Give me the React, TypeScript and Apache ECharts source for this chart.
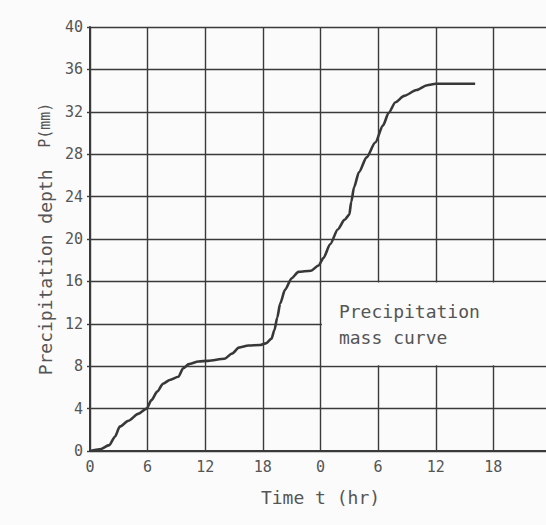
import React, { useEffect, useRef } from "react";
import * as echarts from "echarts";

// Time (hr, cumulative from start) and cumulative precipitation depth (mm)
const timeHr: number[] = [
  0, 1.0, 2.0, 2.6, 3.1, 4.0, 5.0, 5.9, 6.4, 7.0, 7.6, 8.3, 9.2, 9.7, 10.3, 11.3, 12.3,
  14.0, 14.8, 15.5, 16.5, 17.7, 18.3, 18.9, 19.2, 19.5, 19.8, 20.3, 21.0, 21.7, 23.0,
  23.8, 24.3, 25.0, 25.8, 26.5, 27.0, 27.2, 27.5, 28.0, 28.8, 29.7, 30.5, 31.1, 31.8,
  32.7, 34.0, 35.1, 36.0, 40.1,
];
const depthMm: number[] = [
  0, 0.15, 0.55, 1.35, 2.3, 2.85, 3.5, 4.0, 4.8, 5.6, 6.35, 6.7, 7.0, 7.8, 8.2, 8.45, 8.5,
  8.7, 9.2, 9.75, 9.95, 10.0, 10.15, 10.6, 11.4, 12.6, 13.9, 15.2, 16.3, 16.9, 17.0,
  17.5, 18.2, 19.5, 20.9, 21.8, 22.3, 23.5, 24.9, 26.3, 27.7, 29.1, 30.7, 31.9, 32.9,
  33.5, 34.05, 34.5, 34.65, 34.65,
];

const xMin = 0;
const xMax = 48;
const xInterval = 6;
const yMin = 0;
const yMax = 40;
const yInterval = 4;

const yAxisTitle = "Precipitation depth  {s|P(mm)}";
const xAxisTitle = "Time t (hr)";
const noteText = "Precipitation\nmass curve";
const noteBox: [number, number][] = [
  [24.15, 8.1],
  [48, 15.9],
];

const MONO = "'DejaVu Sans Mono', 'Liberation Mono', monospace";
const INK = "#3a3a3a";
const TEXT = "#555";
const BG = "#fbfbfb";

export default function App() {
  const ref = useRef<HTMLDivElement>(null);

  useEffect(() => {
    if (!ref.current) return;
    const chart = echarts.init(ref.current, undefined, { renderer: "svg" });
    const data = timeHr.map((t, i) => [t, depthMm[i]]);
    chart.setOption({
      animation: false,
      backgroundColor: BG,
      grid: {
        left: 90,
        top: 27,
        right: -5,
        bottom: 74,
        containLabel: false,
        outerBoundsMode: "none",
      },
      xAxis: {
        type: "value",
        min: xMin,
        max: xMax,
        interval: xInterval,
        name: xAxisTitle,
        nameLocation: "middle",
        nameGap: 37,
        nameTextStyle: { fontFamily: MONO, fontSize: 18, color: TEXT },
        axisLine: { show: true, onZero: false, lineStyle: { color: INK, width: 2 } },
        axisTick: { show: false },
        axisLabel: {
          fontFamily: MONO,
          fontSize: 15,
          color: TEXT,
          margin: 8,
          showMaxLabel: true,
          hideOverlap: false,
          formatter: (v: number) => (v % 6 === 0 ? String(v % 24) : ""),
        },
        splitLine: { show: true, lineStyle: { color: INK, width: 1.4 } },
      },
      yAxis: {
        type: "value",
        min: yMin,
        max: yMax,
        interval: yInterval,
        name: yAxisTitle,
        nameLocation: "middle",
        nameGap: 36,
        nameTextStyle: {
          fontFamily: MONO,
          fontSize: 18,
          color: TEXT,
          rich: { s: { fontFamily: MONO, fontSize: 15, color: TEXT } },
        },
        axisLine: { show: true, onZero: false, lineStyle: { color: INK, width: 2 } },
        axisTick: { show: true, length: 3, lineStyle: { color: INK, width: 1.4 } },
        axisLabel: { fontFamily: MONO, fontSize: 15, color: TEXT, margin: 7 },
        splitLine: { show: true, lineStyle: { color: INK, width: 1.4 } },
      },
      series: [
        {
          type: "line",
          data,
          showSymbol: false,
          smooth: 0.25,
          smoothMonotone: "x",
          lineStyle: { color: "#383838", width: 2.6 },
          clip: true,
          markArea: {
            silent: true,
            itemStyle: { color: BG, opacity: 1, borderWidth: 0 },
            label: {
              show: true,
              position: [17, 16],
              align: "left",
              verticalAlign: "top",
              fontFamily: MONO,
              fontSize: 18,
              lineHeight: 26,
              color: TEXT,
              formatter: noteText,
            },
            data: [[{ coord: noteBox[0] }, { coord: noteBox[1] }]],
          },
        },
      ],
    });
    return () => chart.dispose();
  }, []);

  return (
    <div style={{ position: "fixed", left: 0, top: 0, width: 546, height: 525, overflow: "hidden" }}>
      <div ref={ref} style={{ width: 546, height: 525 }} />
    </div>
  );
}
